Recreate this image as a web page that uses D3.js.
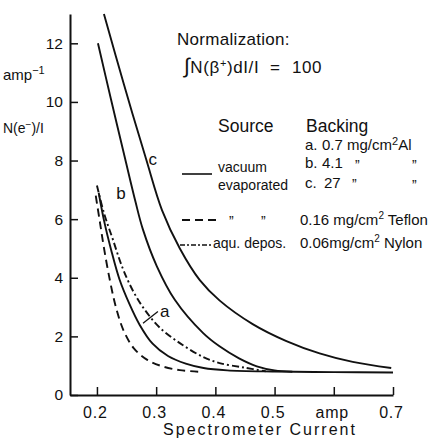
<!DOCTYPE html>
<html>
<head>
<meta charset="utf-8">
<script src="https://cdn.jsdelivr.net/npm/d3@7"></script>
<style>
  html, body { margin: 0; padding: 0; background: #fff; }
  svg { display: block; }
  text { font-family: "Liberation Sans", Arial, sans-serif; fill: #111; }
</style>
</head>
<body>
<svg id="chart" width="437" height="446"></svg>
<script>
// ---- data ----
const xTicks = [0.2, 0.3, 0.4, 0.5, 0.6, 0.7];
const xTickLabels = ["0.2", "0.3", "0.4", "0.5", "amp", "0.7"];
const yTicks = [0, 2, 4, 6, 8, 10, 12];

// solid, vacuum evaporated, backing a (0.7 mg/cm2 Al) - continues as the flat tail
const curveA_x = [0.203, 0.212, 0.224, 0.238, 0.255, 0.272, 0.294, 0.320, 0.350, 0.380, 0.420, 0.500, 0.600, 0.700];
const curveA_y = [6.9, 5.95, 4.95, 3.95, 3.1, 2.4, 1.75, 1.33, 1.07, 0.92, 0.84, 0.80, 0.78, 0.77];
// solid, backing b (4.1 mg/cm2 Al)
const curveB_x = [0.2017, 0.2236, 0.2477, 0.265, 0.2776, 0.301, 0.3315, 0.379, 0.407, 0.440, 0.470, 0.500, 0.530];
const curveB_y = [12.0, 10.1, 8.05, 6.6, 5.65, 4.4, 3.25, 2.12, 1.66, 1.25, 0.98, 0.84, 0.795];
// solid, backing c (27 mg/cm2 Al)
const curveC_x = [0.2118, 0.2455, 0.283, 0.310, 0.340, 0.3737, 0.4074, 0.463, 0.520, 0.576, 0.632, 0.697];
const curveC_y = [13.0, 10.6, 8.05, 6.3, 5.0, 3.92, 3.22, 2.42, 1.84, 1.42, 1.13, 0.92];
// dashed, 0.16 mg/cm2 Teflon
const teflon_x = [0.198, 0.205, 0.212, 0.222, 0.232, 0.245, 0.262, 0.285, 0.310, 0.340, 0.375];
const teflon_y = [6.8, 5.9, 5.0, 3.9, 3.0, 2.2, 1.6, 1.2, 0.98, 0.85, 0.79];
// dash-dot, aqu. depos., 0.06 mg/cm2 Nylon
const nylon_x = [0.200, 0.212, 0.227, 0.243, 0.261, 0.281, 0.306, 0.340, 0.379, 0.407, 0.450, 0.485];
const nylon_y = [7.15, 6.2, 5.3, 4.35, 3.55, 2.9, 2.3, 1.77, 1.3, 1.09, 0.93, 0.81];

// curve labels (data units)
const curveLabels = [
  { t: "c", x: 0.287, y: 7.85 },
  { t: "b", x: 0.2325, y: 6.7 },
  { t: "a", x: 0.3065, y: 2.65 }
];
const leaderA = [{ x: 0.2778, y: 2.45 }, { x: 0.303, y: 2.85 }];

// ---- drawing ----
const svg = d3.select("#chart");
const x = d3.scaleLinear().domain([0.1545, 0.7]).range([70, 393]);
const y = d3.scaleLinear().domain([0, 13]).range([395, 14]);

const zip = (xs, ys) => xs.map((v, i) => ({ x: v, y: ys[i] }));
const line = d3.line().x(d => x(d.x)).y(d => y(d.y)).curve(d3.curveCatmullRom.alpha(0.5));

// axes
const gx = svg.append("g").attr("transform", "translate(0,395)")
  .call(d3.axisBottom(x).tickValues(xTicks).tickSizeInner(-8).tickSizeOuter(0).tickPadding(12)
    .tickFormat((d, i) => xTickLabels[i]));
const gy = svg.append("g").attr("transform", "translate(70,0)")
  .call(d3.axisLeft(y).tickValues(yTicks).tickSizeInner(-8).tickSizeOuter(0).tickPadding(7)
    .tickFormat(d3.format("d")));
[gx, gy].forEach(g => {
  g.select(".domain").attr("stroke", "#111").attr("stroke-width", 2);
  g.selectAll(".tick line").attr("stroke", "#111").attr("stroke-width", 1.5);
  g.selectAll(".tick text").attr("fill", "#111").style("font-size", "16px")
    .style("font-family", "'Liberation Sans', Arial, sans-serif");
});
gx.selectAll(".tick text").attr("dx", "-2px").style("letter-spacing", "0.8px");
gy.selectAll(".tick text").style("font-size", "15.5px");

// axis titles
svg.append("text").attr("x", 260).attr("y", 435).attr("text-anchor", "middle")
  .style("font-size", "16px").style("letter-spacing", "2px").text("Spectrometer Current");
const t1 = svg.append("text").attr("x", 3).attr("y", 80).style("font-size", "15px");
t1.append("tspan").text("amp");
t1.append("tspan").attr("dy", -6).style("font-size", "11px").text("−1");
const t2 = svg.append("text").attr("x", 3).attr("y", 133).style("font-size", "14px");
t2.append("tspan").text("N(e");
t2.append("tspan").attr("dy", -5).style("font-size", "10px").text("−");
t2.append("tspan").attr("dy", 5).text(")/I");

// curves
const series = [
  { d: zip(curveC_x, curveC_y), dash: null },
  { d: zip(curveB_x, curveB_y), dash: null },
  { d: zip(curveA_x, curveA_y), dash: null },
  { d: zip(teflon_x, teflon_y), dash: "8,5" },
  { d: zip(nylon_x, nylon_y), dash: "7,3,2,3" }
];
svg.append("g").selectAll("path").data(series).join("path")
  .attr("d", s => line(s.d)).attr("fill", "none").attr("stroke", "#111")
  .attr("stroke-width", 1.9).attr("stroke-dasharray", s => s.dash);

// curve labels
svg.append("g").selectAll("text").data(curveLabels).join("text")
  .attr("x", d => x(d.x)).attr("y", d => y(d.y)).style("font-size", "17px").text(d => d.t);
svg.append("line").attr("x1", x(leaderA[0].x)).attr("y1", y(leaderA[0].y))
  .attr("x2", x(leaderA[1].x)).attr("y2", y(leaderA[1].y)).attr("stroke", "#111").attr("stroke-width", 1.3);

// normalization note
svg.append("text").attr("x", 177).attr("y", 45).style("font-size", "17px").style("letter-spacing", "0.3px")
  .text("Normalization:");
const n2 = svg.append("text").attr("x", 184).attr("y", 73).style("font-size", "17px").style("letter-spacing", "0.6px");
n2.append("tspan").style("font-size", "21px").text("∫");
n2.append("tspan").text("N(β");
n2.append("tspan").attr("dy", -6).style("font-size", "11px").text("+");
n2.append("tspan").attr("dy", 6).text(")dI/I");
n2.append("tspan").attr("x", 270).text("=");
n2.append("tspan").attr("x", 292).text("100");

// legend
svg.append("text").attr("x", 218).attr("y", 132).style("font-size", "17.5px").text("Source");
svg.append("text").attr("x", 306).attr("y", 132).style("font-size", "17.5px").text("Backing");

const leg = svg.append("g").style("font-size", "14px");
const a1 = leg.append("text").attr("x", 305).attr("y", 150).style("font-size", "15px");
a1.append("tspan").text("a.");
a1.append("tspan").attr("x", 322).text("0.7 mg/cm");
a1.append("tspan").attr("dy", -5).style("font-size", "11px").text("2");
a1.append("tspan").attr("dy", 5).text("Al");
const b1 = leg.append("text").attr("x", 305).attr("y", 168).style("font-size", "15px");
b1.append("tspan").text("b.");
b1.append("tspan").attr("x", 322).text("4.1");
leg.append("text").attr("x", 355).attr("y", 170).text("\u201D");
leg.append("text").attr("x", 412).attr("y", 170).text("\u201D");
const c1 = leg.append("text").attr("x", 305).attr("y", 188).style("font-size", "15px");
c1.append("tspan").text("c.");
c1.append("tspan").attr("x", 324).text("27");
leg.append("text").attr("x", 352).attr("y", 189).text("\u201D");
leg.append("text").attr("x", 412).attr("y", 190).text("\u201D");

leg.append("line").attr("x1", 182).attr("x2", 212).attr("y1", 174).attr("y2", 174)
  .attr("stroke", "#111").attr("stroke-width", 1.6);
leg.append("text").attr("x", 218).attr("y", 172).text("vacuum");
leg.append("text").attr("x", 218).attr("y", 190).text("evaporated");

leg.append("line").attr("x1", 182).attr("x2", 218).attr("y1", 220).attr("y2", 220)
  .attr("stroke", "#111").attr("stroke-width", 1.8).attr("stroke-dasharray", "8,5");
leg.append("text").attr("x", 229).attr("y", 226).text("\u201D");
leg.append("text").attr("x", 261).attr("y", 226).text("\u201D");
const tf = leg.append("text").attr("x", 300).attr("y", 225).style("font-size", "15px");
tf.append("tspan").text("0.16 mg/cm");
tf.append("tspan").attr("dy", -6).style("font-size", "10px").text("2");
tf.append("tspan").attr("dy", 6).text(" Teflon");

leg.append("line").attr("x1", 180).attr("x2", 213).attr("y1", 245).attr("y2", 245)
  .attr("stroke", "#111").attr("stroke-width", 1.6).attr("stroke-dasharray", "5,2,2,2");
leg.append("text").attr("x", 213).attr("y", 248).text("aqu. depos.");
const ny = leg.append("text").attr("x", 300).attr("y", 248).style("font-size", "15px");
ny.append("tspan").text("0.06mg/cm");
ny.append("tspan").attr("dy", -6).style("font-size", "10px").text("2");
ny.append("tspan").attr("dy", 6).text(" Nylon");
</script>
</body>
</html>
